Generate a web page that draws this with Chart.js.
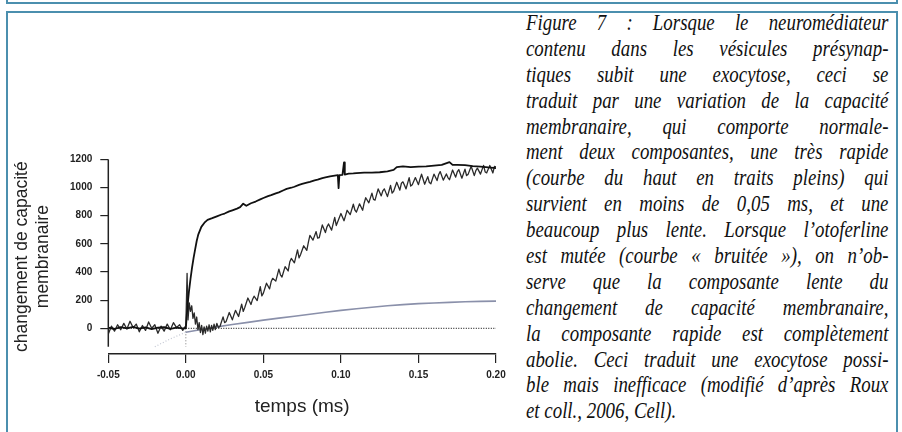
<html>
<head>
  <meta charset="utf-8">
  <script src="https://cdn.jsdelivr.net/npm/chart.js@4.4.0/dist/chart.umd.min.js"></script>
  <style>
    body { margin: 0; padding: 0; background: #fff; width: 902px; height: 432px; overflow: hidden; position: relative; }
    .prev { position: absolute; left: 6px; top: -20px; width: 888px; height: 22px; border: 2px solid #4b8fae; border-top: none; }
    .box { position: absolute; left: 6px; top: 11px; width: 888px; height: 440px; border: 2px solid #4b8fae; border-bottom: none; }
    #chart { position: absolute; left: 0; top: 0; }
    #caption { position: absolute; left: 526px; top: 10px; width: 442px; transform: scaleX(0.82); transform-origin: 0 0;
               font: italic 23px 'Liberation Serif', serif; color: #111; }
    #caption div { height: 25.9px; line-height: 25.9px; white-space: nowrap; text-align: justify; text-align-last: justify; }
    #caption div.last { text-align-last: left; }
  </style>
</head>

<body>
<div class="prev"></div>
<div class="box"></div>
<canvas id="chart" width="520" height="432"></canvas>

<div id="caption">
  <div>Figure 7 : Lorsque le neuromédiateur</div>
  <div>contenu dans les vésicules présynap-</div>
  <div>tiques subit une exocytose, ceci se</div>
  <div>traduit par une variation de la capacité</div>
  <div>membranaire, qui comporte normale-</div>
  <div>ment deux composantes, une très rapide</div>
  <div>(courbe du haut en traits pleins) qui</div>
  <div>survient en moins de 0,05 ms, et une</div>
  <div>beaucoup plus lente. Lorsque l’otoferline</div>
  <div>est mutée (courbe « bruitée »), on n’ob-</div>
  <div>serve que la composante lente du</div>
  <div>changement de capacité membranaire,</div>
  <div>la composante rapide est complètement</div>
  <div>abolie. Ceci traduit une exocytose possi-</div>
  <div>ble mais inefficace (modifié d’après Roux</div>
  <div class="last">et coll., 2006, Cell).</div>
</div>

<script>
  // [temps (ms), changement de capacité]
  const wildType = [
    [-0.050, 5], [-0.046, -5], [-0.042, 8], [-0.038, 0], [-0.034, 10], [-0.030, -3], [-0.026, 6],
    [-0.022, -6], [-0.018, 4], [-0.014, 9], [-0.010, -4], [-0.006, 5], [-0.002, 0], [0.000, 0],
    [0.001, 150], [0.002, 260], [0.003, 350], [0.004, 430], [0.005, 500], [0.006, 560], [0.007, 620],
    [0.008, 665], [0.010, 720], [0.012, 750], [0.014, 770], [0.017, 782], [0.020, 795], [0.023, 808],
    [0.025, 815], [0.028, 830], [0.030, 838], [0.033, 850], [0.035, 860], [0.037, 885], [0.039, 870],
    [0.042, 888], [0.045, 900], [0.048, 915], [0.050, 925], [0.053, 938], [0.055, 945], [0.058, 958],
    [0.060, 965], [0.063, 980], [0.065, 990], [0.068, 998], [0.070, 1005], [0.073, 1018], [0.075, 1025],
    [0.078, 1034], [0.080, 1040], [0.083, 1050], [0.085, 1055], [0.088, 1066], [0.090, 1072],
    [0.093, 1079], [0.095, 1083], [0.098, 1088], [0.0985, 995], [0.099, 1088], [0.101, 1090],
    [0.102, 1178], [0.1025, 1092], [0.105, 1098], [0.108, 1100], [0.110, 1102], [0.115, 1105],
    [0.120, 1106], [0.125, 1108], [0.130, 1115], [0.134, 1125], [0.136, 1145], [0.140, 1150],
    [0.145, 1145], [0.150, 1148], [0.155, 1150], [0.160, 1155], [0.165, 1160], [0.170, 1180],
    [0.172, 1160], [0.175, 1160], [0.180, 1158], [0.185, 1152], [0.190, 1148], [0.195, 1142], [0.200, 1138]
  ]

  const mutant = [
    [-0.050, -40], [-0.048, 15], [-0.046, -20], [-0.044, 25], [-0.042, -10], [-0.040, 35], [-0.038, -5],
    [-0.036, 50], [-0.034, 5], [-0.032, 30], [-0.030, -25], [-0.028, 20], [-0.026, -15], [-0.024, 45],
    [-0.022, 0], [-0.020, 25], [-0.018, -35], [-0.016, 15], [-0.014, -20], [-0.012, 30], [-0.010, -10],
    [-0.008, 40], [-0.006, 5], [-0.004, 25], [-0.002, -15],
    [0.0000, 20], [0.0008, 390], [0.0014, 60], [0.0022, 180], [0.0030, 120], [0.0038, 160], [0.0046, 70],
    [0.0054, 110], [0.0062, 30], [0.0070, 80], [0.0078, -10], [0.0086, 40], [0.0094, -30], [0.0102, 20],
    [0.0110, -45], [0.0118, 10], [0.0126, -35], [0.0134, 15], [0.0142, -20], [0.0150, 25], [0.0158, -25],
    [0.0166, 20], [0.0174, -15], [0.0182, 30], [0.0190, -10],
    [0.020, 35], [0.021, 5], [0.022, 13], [0.024, 81], [0.025, 40], [0.026, 49], [0.028, 112], [0.030, 60],
    [0.031, 95], [0.032, 127], [0.034, 84], [0.036, 171], [0.037, 120], [0.038, 148], [0.040, 215],
    [0.042, 169], [0.043, 205], [0.044, 228], [0.046, 197], [0.048, 296], [0.049, 230], [0.050, 250],
    [0.052, 320], [0.054, 280], [0.055, 330], [0.056, 355], [0.058, 335], [0.060, 420], [0.061, 380],
    [0.062, 364], [0.064, 438], [0.066, 407], [0.067, 470], [0.068, 496], [0.070, 465], [0.072, 557],
    [0.073, 500], [0.074, 524], [0.076, 586], [0.078, 553], [0.079, 610], [0.080, 660], [0.082, 626],
    [0.084, 687], [0.085, 640], [0.086, 643], [0.088, 734], [0.090, 680], [0.091, 720], [0.092, 741],
    [0.094, 697], [0.096, 788], [0.097, 730], [0.098, 759], [0.100, 815], [0.102, 764], [0.103, 800],
    [0.104, 838], [0.106, 807], [0.108, 881], [0.109, 840], [0.110, 825], [0.112, 884], [0.114, 838],
    [0.115, 890], [0.116, 927], [0.118, 891], [0.120, 960], [0.121, 915], [0.122, 910], [0.124, 990],
    [0.126, 940], [0.127, 975], [0.128, 990], [0.130, 935], [0.132, 1014], [0.133, 960], [0.134, 973],
    [0.136, 1037], [0.138, 981], [0.139, 1030], [0.140, 1040], [0.142, 990], [0.144, 1070], [0.145, 1010],
    [0.146, 1020], [0.148, 1070], [0.150, 1020], [0.151, 1060], [0.152, 1094], [0.154, 1023], [0.156, 1077],
    [0.157, 1035], [0.158, 1026], [0.160, 1095], [0.162, 1049], [0.163, 1090], [0.164, 1113], [0.166, 1052],
    [0.168, 1096], [0.169, 1070], [0.170, 1055], [0.172, 1124], [0.174, 1073], [0.175, 1110], [0.176, 1127],
    [0.178, 1066], [0.180, 1130], [0.181, 1085], [0.182, 1093], [0.184, 1151], [0.186, 1084], [0.187, 1120],
    [0.188, 1137], [0.190, 1095], [0.192, 1157], [0.193, 1110], [0.194, 1104], [0.196, 1156], [0.198, 1103],
    [0.199, 1150], [0.200, 1145]
  ]

  // slow component fit, and its extrapolation before t = 0
  const slowFit = [
    [0.00, -28], [0.01, -8], [0.02, 10], [0.03, 27], [0.04, 42], [0.05, 58], [0.06, 72], [0.07, 86],
    [0.08, 100], [0.09, 114], [0.10, 127], [0.11, 139], [0.12, 150], [0.13, 160], [0.14, 168],
    [0.15, 175], [0.16, 180], [0.17, 184], [0.18, 188], [0.19, 191], [0.20, 193]
  ]
  const slowFitBack = [[-0.020, -131], [-0.010, -75], [0.000, -28]]

  const zeroLine = [[-0.05, 0], [0.20, 0]]
  const onsetLine = [[0, 0], [0, -131]]

  const xTickValues = [-0.05, 0, 0.05, 0.10, 0.15, 0.20]
  const xTickLabels = ['-0.05', '0.00', '0.05', '0.10', '0.15', '0.20']
  const yTickValues = [0, 200, 400, 600, 800, 1000, 1200]
  const yTickLabels = ['0', '200', '400', '600', '800', '1000', '1200']
  const yAxisSpan = [-131, 1200]

  const ink = '#222'
  const tickFont = {family: "'Liberation Sans', Arial", size: 10, weight: 'bold'}

  const yAxisLine = {
    id: 'yAxisLine',
    afterDatasetsDraw(chart) {
      const {ctx, chartArea, scales} = chart
      ctx.save()
      ctx.strokeStyle = ink
      ctx.lineWidth = 1.5
      ctx.beginPath()
      ctx.moveTo(chartArea.left, scales.y.getPixelForValue(yAxisSpan[0]))
      ctx.lineTo(chartArea.left, scales.y.getPixelForValue(yAxisSpan[1]))
      ctx.stroke()
      ctx.restore()
    }
  }

  const line = (data, color, width, dash) => ({
    data, borderColor: color, borderWidth: width, borderDash: dash || [],
    pointRadius: 0, tension: 0, fill: false, borderJoinStyle: 'round'
  })

  new Chart(document.getElementById('chart').getContext('2d'), {
    type: 'line',
    data: {
      datasets: [
        line(wildType, '#111', 1.8),
        line(mutant, '#2a2a2a', 1.3),
        line(slowFit, '#8a90aa', 1.6),
        line(slowFitBack, '#c2c6d2', 1.2, [1, 2]),
        line(zeroLine, '#333', 1.2, [1, 1.5]),
        line(onsetLine, '#777', 1, [1, 2]),
      ]
    },
    options: {
      responsive: false,
      animation: false,
      layout: {padding: {top: 159.3, right: 24, bottom: 0, left: 0}},
      plugins: {legend: {display: false}, tooltip: {enabled: false}},
      scales: {
        x: {
          type: 'linear',
          min: -0.05,
          max: 0.20,
          afterFit: scale => { scale.height = 78 },
          afterBuildTicks: scale => { scale.ticks = xTickValues.map(v => ({value: v})) },
          border: {display: true, color: ink, width: 1.5},
          grid: {display: true, drawOnChartArea: false, drawTicks: true, tickLength: 9, color: ink, lineWidth: 1.2},
          ticks: {autoSkip: false, maxRotation: 0, padding: 6, color: ink, font: tickFont,
                  callback: (v, i) => xTickLabels[i]},
          title: {display: true, text: 'temps (ms)', color: ink, padding: {top: 0, bottom: 13.6},
                  font: {family: "'Liberation Sans', Arial", size: 19}}
        },
        y: {
          min: -182.5,
          max: 1200,
          afterFit: scale => { scale.width = 108.3 },
          afterBuildTicks: scale => { scale.ticks = yTickValues.map(v => ({value: v})) },
          border: {display: false},
          grid: {display: true, drawOnChartArea: false, drawTicks: true, tickLength: 8, color: ink, lineWidth: 1.2},
          ticks: {autoSkip: false, padding: 8, color: ink, font: tickFont,
                  callback: (v, i) => yTickLabels[i]},
          title: {display: true, text: ['changement de capacité', 'membranaire'], color: ink,
                  padding: {top: 11.5, bottom: 0},
                  font: {family: "'Liberation Sans', Arial", size: 17.5, lineHeight: 1.2}}
        }
      }
    },
    plugins: [yAxisLine]
  })
</script>
</body>
</html>
